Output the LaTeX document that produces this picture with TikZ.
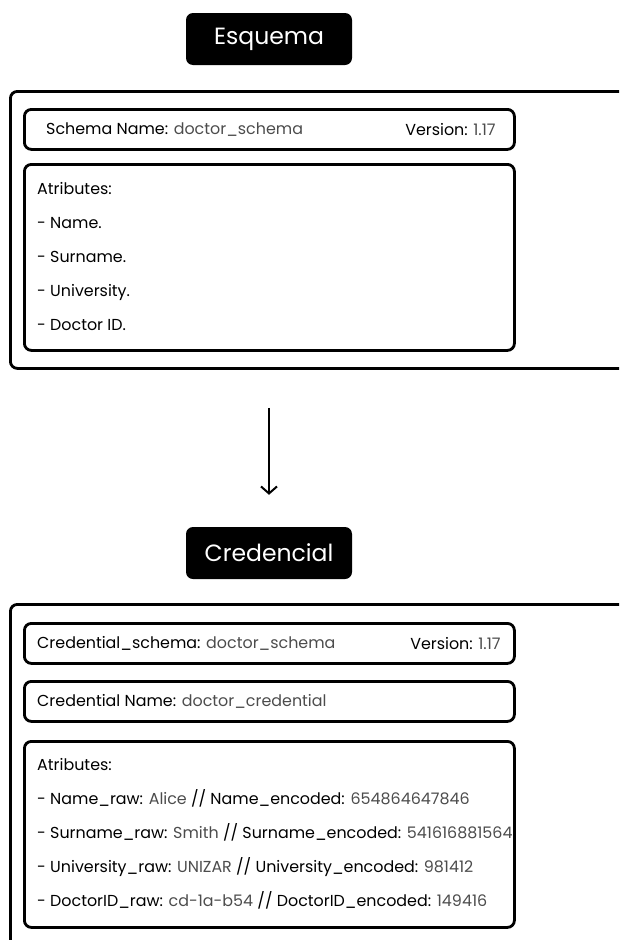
\documentclass[tikz,border=0pt]{standalone}
\usepackage{fontspec}
\setmainfont{Poppins}
\usepackage{xcolor}
\usetikzlibrary{arrows.meta,positioning}

\newcommand{\fval}[1]{{\color{black!70}#1}}

\begin{document}
\begin{tikzpicture}[x=1pt, y=-1pt,
  title/.style={fill=black, text=white, rounded corners=7pt, minimum width=166pt,
                minimum height=52pt, inner sep=0pt, font=\fontsize{23.5}{28}\selectfont},
  frame/.style={draw, line width=2.8pt, rounded corners=7pt, anchor=north west,
                inner sep=0pt},
  field/.style={draw, line width=2.8pt, rounded corners=7pt, anchor=north west,
                minimum width=490pt, minimum height=40pt, inner sep=0pt},
  attrs/.style={field, minimum height=186pt},
  txt/.style={inner sep=0pt, font=\fontsize{15.9}{18}\selectfont},
  lines/.style={inner sep=0pt, align=left, font=\fontsize{15.9}{34}\selectfont},
  arr/.style={-{Straight Barb[length=7pt, width=16pt, line width=2pt]}, line width=2pt}
]
  \useasboundingbox (0,0) rectangle (619,940);
  \clip (0,0) rectangle (619,940);
  % Esquema
  \node[title] (tschema) at (269,39) {Esquema};
  \node[frame, minimum width=640pt, minimum height=277pt] (schemabox) at (9,90) {};
  \node[field] (sname) at (23,108) {};
  \node[txt, anchor=west] (snamet) at ([xshift=23pt]sname.west) {Schema Name: \fval{doctor\_schema}};
  \node[txt, anchor=east] (sver) at ([xshift=-20pt]sname.east) {Version: \fval{1.17}};
  \node[attrs] (sattr) at (23,163) {};
  \node[lines, anchor=west] (sattrt) at ([xshift=14pt, yshift=1pt]sattr.west)
    {Atributes:\\- Name.\\- Surname.\\- University.\\- Doctor ID.};
  % Credencial
  \node[title] (tcred) at (269,553) {Credencial};
  \node[frame, minimum width=640pt, minimum height=400pt] (credbox) at (9,603) {};
  \node[field] (cschema) at (23,622) {};
  \node[txt, anchor=west] (cschemat) at ([xshift=14pt]cschema.west) {Credential\_schema: \fval{doctor\_schema}};
  \node[txt, anchor=east] (cver) at ([xshift=-15pt]cschema.east) {Version: \fval{1.17}};
  \node[field] (cname) at (23,680) {};
  \node[txt, anchor=west] (cnamet) at ([xshift=14pt]cname.west) {Credential Name: \fval{doctor\_credential}};
  \node[attrs] (cattr) at (23,740) {};
  \node[lines, anchor=west] (cattrt) at ([xshift=14pt, yshift=1pt]cattr.west) {Atributes:\\
    - Name\_raw: \fval{Alice} // Name\_encoded: \fval{654864647846}\\
    - Surname\_raw: \fval{Smith} // Surname\_encoded: \fval{541616881564}\\
    - University\_raw: \fval{UNIZAR} // University\_encoded: \fval{981412}\\
    - DoctorID\_raw: \fval{cd-1a-b54} // DoctorID\_encoded: \fval{149416}};
  % Flow
  \draw[arr, shorten <=38pt, shorten >=32pt] (schemabox.south -| tschema) -- (tcred.north);
\end{tikzpicture}
\end{document}
